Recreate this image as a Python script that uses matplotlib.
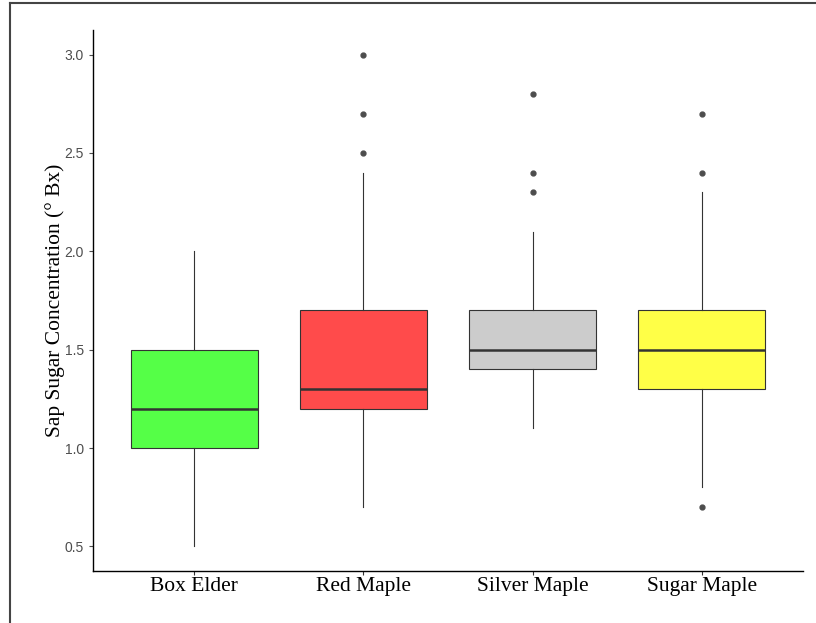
import matplotlib.pyplot as plt
from matplotlib.lines import Line2D

# tree species and the five-number summaries
species = ['Box Elder', 'Red Maple', 'Silver Maple', 'Sugar Maple']
whis_lo = [0.5, 0.7, 1.1, 0.8]
q1 = [1.0, 1.2, 1.4, 1.3]
med = [1.2, 1.3, 1.5, 1.5]
q3 = [1.5, 1.7, 1.7, 1.7]
whis_hi = [2.0, 2.4, 2.1, 2.3]
outliers = [[], [2.5, 2.7, 3.0], [2.3, 2.4, 2.8], [0.7, 2.4, 2.7]]
colors = ['#55FF47', '#FF4B4B', '#CCCCCC', '#FFFF47']

stats = []
for i in range(len(species)):
    stats.append({'label': species[i], 'whislo': whis_lo[i], 'q1': q1[i],
                  'med': med[i], 'q3': q3[i], 'whishi': whis_hi[i],
                  'fliers': outliers[i]})

fig = plt.figure(figsize=(8.16, 6.23), dpi=100)
ax = fig.add_axes([93/816, 1-571/623, 710/816, 541/623])

bp = ax.bxp(stats, positions=[1, 2, 3, 4], widths=0.75, patch_artist=True,
            showcaps=False,
            boxprops=dict(edgecolor='#333333', linewidth=0.8),
            medianprops=dict(color='#333333', linewidth=1.8),
            whiskerprops=dict(color='#333333', linewidth=0.8),
            flierprops=dict(marker='o', markersize=3.5, markerfacecolor='#4D4D4D',
                            markeredgecolor='#4D4D4D'))
for patch, c in zip(bp['boxes'], colors):
    patch.set_facecolor(c)

ax.set_xlim(0.4, 4.6)
ax.set_ylim(0.375, 3.125)
ax.set_yticks([0.5, 1.0, 1.5, 2.0, 2.5, 3.0])
ax.set_yticklabels(['0.5', '1.0', '1.5', '2.0', '2.5', '3.0'])
for s in ['top', 'right']:
    ax.spines[s].set_visible(False)
for s in ['left', 'bottom']:
    ax.spines[s].set_linewidth(1.0)
    ax.spines[s].set_color('black')
ax.tick_params(axis='y', labelsize=10, colors='#4D4D4D', length=3, width=0.8,
               labelcolor='#4D4D4D')
ax.tick_params(axis='x', length=3, width=0.8, colors='#333333', labelcolor='black',
               pad=1.5)
for lab in ax.get_yticklabels():
    lab.set_family('Liberation Sans')
for lab in ax.get_xticklabels():
    lab.set_family('Liberation Serif')
    lab.set_fontsize(15.5)

ax.set_ylabel('Sap Sugar Concentration (° Bx)', family='Liberation Serif',
              fontsize=15.5, labelpad=0)

# outer frame (left and top edges visible)
fig.add_artist(Line2D([10/816, 10/816], [0, 1-3/623], color='#444444', linewidth=1.5))
fig.add_artist(Line2D([10/816, 1], [1-3/623, 1-3/623], color='#444444', linewidth=1.5))

fig.savefig('out.png', dpi=100)
